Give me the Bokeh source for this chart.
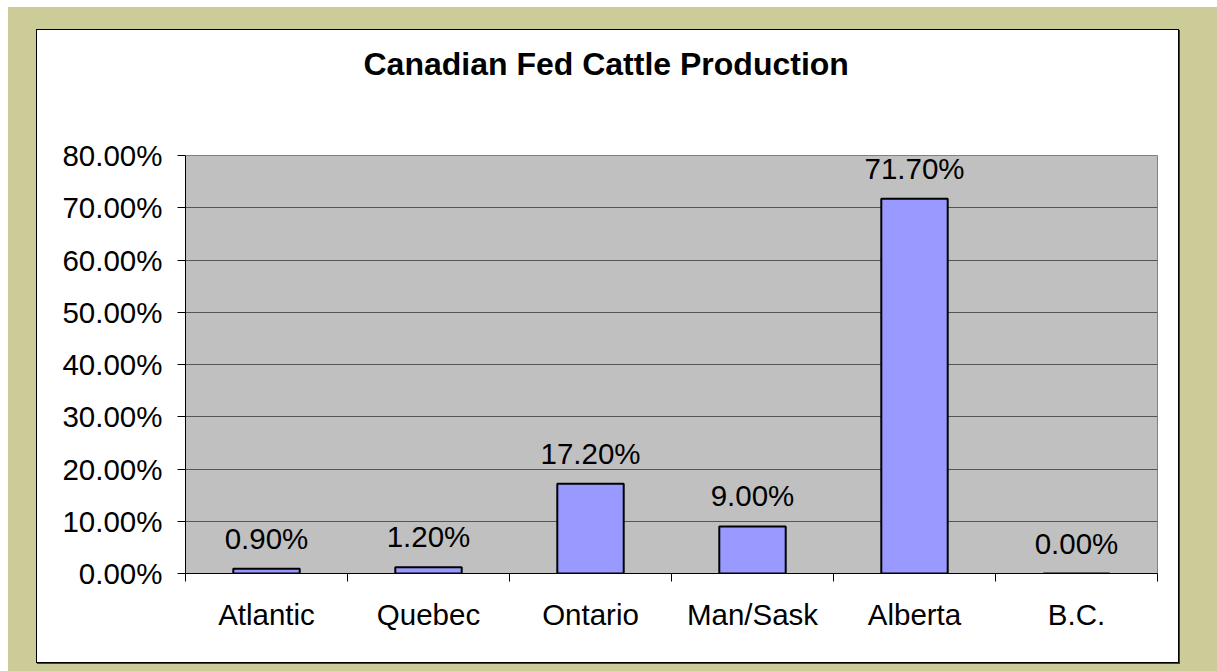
from bokeh.plotting import figure
from bokeh.models import (ColumnDataSource, FixedTicker, PrintfTickFormatter, LabelSet, Range1d,
                          LinearAxis)
from bokeh.core.properties import value
from bokeh.embed import file_html
from bokeh.resources import INLINE

# ---- data ----
categories = ["Atlantic", "Quebec", "Ontario", "Man/Sask", "Alberta", "B.C."]
shares = [0.90, 1.20, 17.20, 9.00, 71.70, 0.00]
y_ticks = [0, 10, 20, 30, 40, 50, 60, 70, 80]
title_text = "Canadian Fed Cattle Production"

centers = [i + 0.5 for i in range(len(categories))]
boundaries = list(range(len(categories) + 1))
bar_labels = [f"{v:.2f}%" for v in shares]

src = ColumnDataSource(dict(x=centers, top=shares, label=bar_labels))

FONT = "Liberation Sans"
FS = "29.5px"
KHAKI = "#CCCC99"

W, H = 1141, 632
p = figure(width=W, height=H, output_backend="svg", toolbar_location=None,
           x_range=Range1d(0, len(categories)), y_range=Range1d(y_ticks[0], y_ticks[-1]),
           min_border_left=148, min_border_right=21, min_border_top=125, min_border_bottom=89,
           background_fill_color="#C0C0C0", border_fill_color="white",
           title=title_text)
p.styles = {
    "margin-left": "37px",
    "margin-top": "30px",
    "box-shadow": "0 0 0 1px #000000, 1px 1px 0 1px #404040, 6px 12px 0 35px " + KHAKI,
}
p.outline_line_color = "#808080"
p.outline_line_width = 1

# x axis (bottom) - grab before adding the spacer axis
xa = p.below[0]
xa.ticker = FixedTicker(ticks=centers, minor_ticks=boundaries)
xa.major_label_overrides = {c: n for c, n in zip(centers, categories)}
xa.major_tick_line_color = None
xa.major_tick_out = 0
xa.major_tick_in = 0
xa.minor_tick_line_color = "black"
xa.minor_tick_out = 8
xa.minor_tick_in = 0
xa.axis_line_color = "black"
xa.major_label_standoff = 16
xa.major_label_text_font = FONT
xa.major_label_text_font_size = FS
xa.major_label_text_color = "black"

# spacer between title and plot area (invisible top axis: white tick on white)
spacer = LinearAxis(ticker=FixedTicker(ticks=[0]), axis_line_color=None,
                    major_tick_line_color="white", minor_tick_line_color=None,
                    major_tick_out=74, major_tick_in=0, minor_tick_out=0, minor_tick_in=0,
                    major_label_standoff=0, major_label_text_font_size="0px",
                    major_label_text_color=None, major_label_overrides={0: ""})
p.add_layout(spacer, "above")

p.title.text_font = FONT
p.title.text_font_size = "32px"
p.title.text_font_style = "bold"
p.title.text_color = "black"
p.title.align = "left"
p.title.offset = 178
p.title.standoff = 0

p.vbar(x="x", top="top", width=0.41, source=src, fill_color="#9999FF",
       line_color="black", line_width=2)

# y axis
ya = p.left[0]
ya.ticker = FixedTicker(ticks=y_ticks)
ya.formatter = PrintfTickFormatter(format="%.2f%%")
ya.major_tick_out = 8
ya.major_tick_in = 0
ya.minor_tick_line_color = None
ya.axis_line_color = "black"
ya.major_tick_line_color = "black"
ya.major_label_standoff = 15
ya.major_label_text_font = FONT
ya.major_label_text_font_size = FS
ya.major_label_text_color = "black"

p.xgrid.visible = False
p.ygrid.grid_line_color = "#555555"
p.ygrid.grid_line_width = 1

labels = LabelSet(x="x", y="top", text="label", source=src, text_align="center",
                  text_baseline="alphabetic", y_offset=20,
                  text_font=value(FONT), text_font_size=value(FS), text_color="black")
p.add_layout(labels)

open("out.html", "w").write(file_html(p, INLINE))
